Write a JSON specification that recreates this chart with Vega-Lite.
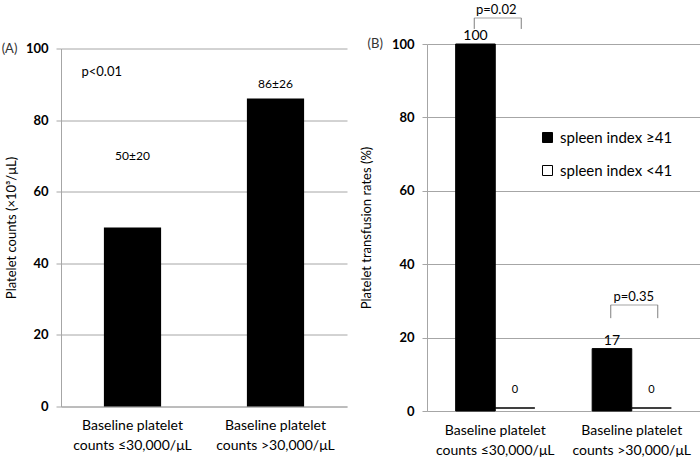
{
  "$schema": "https://vega.github.io/schema/vega-lite/v6.json",
  "padding": {"left": 1, "top": 4, "right": 0, "bottom": 2},
  "bounds": "flush",
  "center": true,
  "spacing": 80,
  "resolve": {"scale": {"fill": "independent"}, "legend": {"fill": "independent"}},
  "config": {
    "font": "Lato",
    "view": {"stroke": null},
    "axis": {
      "gridColor": "#a6a6a6",
      "domainColor": "#a6a6a6",
      "tickColor": "#a6a6a6",
      "labelColor": "#000000",
      "titleColor": "#000000",
      "labelFont": "Lato",
      "titleFont": "Lato"
    },
    "text": {"font": "Lato", "color": "#000000"}
  },
  "datasets": {
    "counts": [
      {"group": "Baseline platelet counts ≤30,000/μL", "count": 50, "label": "50±20"},
      {"group": "Baseline platelet counts >30,000/μL", "count": 86, "label": "86±26"}
    ],
    "notes": [
      {"group": "Baseline platelet counts ≤30,000/μL", "panel": "(A)", "p": "p<0.01"}
    ],
    "rates": [
      {"group": "Baseline platelet counts ≤30,000/μL", "series": "spleen index ≥41", "rate": 100},
      {"group": "Baseline platelet counts ≤30,000/μL", "series": "spleen index <41", "rate": 0},
      {"group": "Baseline platelet counts >30,000/μL", "series": "spleen index ≥41", "rate": 17},
      {"group": "Baseline platelet counts >30,000/μL", "series": "spleen index <41", "rate": 0}
    ],
    "pvals": [
      {"group": "Baseline platelet counts ≤30,000/μL", "panel": "(B)", "p": "p=0.02"},
      {"group": "Baseline platelet counts >30,000/μL", "panel": "", "p": "p=0.35"}
    ]
  },
  "hconcat": [
    {
      "width": 286,
      "height": 358,
      "encoding": {
        "x": {
          "field": "group",
          "type": "nominal",
          "sort": null,
          "scale": {"paddingInner": 0.6, "paddingOuter": 0.3},
          "axis": {
            "title": null,
            "labelAngle": 0,
            "ticks": false,
            "labelFontSize": 14,
            "labelLineHeight": 20,
            "labelPadding": 12,
            "labelExpr": "[slice(datum.label, 0, 17), slice(datum.label, 18)]"
          }
        }
      },
      "layer": [
        {
          "data": {"name": "counts"},
          "mark": {"type": "bar", "color": "#000000"},
          "encoding": {
            "y": {
              "field": "count",
              "type": "quantitative",
              "scale": {"domain": [0, 100], "nice": false},
              "axis": {
                "title": "Platelet counts (×10³/μL)",
                "values": [0, 20, 40, 60, 80, 100],
                "labelFontSize": 13,
                "labelFontWeight": "bold",
                "labelPadding": 8,
                "tickSize": 5,
                "titleFontSize": 13,
                "titleFontWeight": "normal",
                "titlePadding": 7
              }
            }
          }
        },
        {
          "data": {"name": "counts"},
          "transform": [{"filter": "datum.count == 50"}],
          "mark": {"type": "text", "fontSize": 12, "baseline": "middle"},
          "encoding": {"y": {"datum": 70}, "text": {"field": "label"}}
        },
        {
          "data": {"name": "counts"},
          "transform": [{"filter": "datum.count == 86"}],
          "mark": {"type": "text", "fontSize": 12, "baseline": "middle"},
          "encoding": {"y": {"datum": 90}, "text": {"field": "label"}}
        },
        {
          "data": {"name": "notes"},
          "mark": {"type": "text", "fontSize": 13, "baseline": "middle", "align": "center", "dx": -123, "color": "#333333"},
          "encoding": {"y": {"datum": 100}, "text": {"field": "panel"}}
        },
        {
          "data": {"name": "notes"},
          "mark": {"type": "text", "fontSize": 13, "baseline": "middle", "align": "left", "dx": -51},
          "encoding": {"y": {"datum": 93.5}, "text": {"field": "p"}}
        }
      ]
    },
    {
      "width": 273,
      "height": 367,
      "encoding": {
        "x": {
          "field": "group",
          "type": "nominal",
          "sort": null,
          "scale": {"paddingInner": 0.42, "paddingOuter": 0.21},
          "axis": {
            "title": null,
            "labelAngle": 0,
            "ticks": false,
            "labelFontSize": 14,
            "labelLineHeight": 20,
            "labelPadding": 12,
            "labelExpr": "[slice(datum.label, 0, 17), slice(datum.label, 18)]"
          }
        }
      },
      "layer": [
        {
          "data": {"name": "rates"},
          "transform": [{"filter": "datum.series == 'spleen index ≥41'"}],
          "mark": {"type": "bar", "stroke": "#000000", "strokeWidth": 1},
          "encoding": {
            "xOffset": {"field": "series", "type": "nominal", "scale": {"domain": ["spleen index ≥41", "spleen index <41"], "paddingInner": 0, "paddingOuter": 0}},
            "y": {
              "field": "rate",
              "type": "quantitative",
              "scale": {"domain": [0, 100], "nice": false},
              "axis": {
                "title": "Platelet transfusion rates (%)",
                "values": [0, 20, 40, 60, 80, 100],
                "labelFontSize": 13,
                "labelFontWeight": "bold",
                "labelPadding": 8,
                "tickSize": 5,
                "titleFontSize": 13,
                "titleFontWeight": "normal",
                "titlePadding": 18
              }
            },
            "fill": {
              "field": "series",
              "type": "nominal",
              "scale": {"domain": ["spleen index ≥41", "spleen index <41"], "range": ["#000000", "#ffffff"]},
              "legend": {
                "title": null,
                "orient": "none",
                "legendX": 113,
                "legendY": 86,
                "padding": 0,
                "symbolType": "square",
                "symbolSize": 100,
                "symbolStrokeColor": "#000000",
                "symbolStrokeWidth": 1,
                "labelFontSize": 15,
                "labelFont": "Lato",
                "labelColor": "#000000",
                "labelOffset": 5,
                "rowPadding": 17
              }
            }
          }
        },
        {
          "data": {"name": "rates"},
          "transform": [{"filter": "datum.series == 'spleen index <41'"}],
          "mark": {"type": "bar", "stroke": "#000000", "strokeWidth": 1, "yOffset": -3},
          "encoding": {
            "xOffset": {"field": "series", "type": "nominal"},
            "y": {"field": "rate", "type": "quantitative"},
            "fill": {"field": "series", "type": "nominal"}
          }
        },
        {
          "data": {"name": "rates"},
          "transform": [{"filter": "datum.series == 'spleen index ≥41'"}],
          "mark": {"type": "text", "fontSize": 14, "baseline": "bottom", "dy": -1},
          "encoding": {
            "xOffset": {"field": "series", "type": "nominal"},
            "y": {"field": "rate", "type": "quantitative"},
            "text": {"field": "rate", "type": "quantitative"}
          }
        },
        {
          "data": {"name": "rates"},
          "transform": [{"filter": "datum.series == 'spleen index <41'"}],
          "mark": {"type": "text", "fontSize": 11, "baseline": "bottom", "dy": -16},
          "encoding": {
            "xOffset": {"field": "series", "type": "nominal"},
            "y": {"field": "rate", "type": "quantitative"},
            "text": {"field": "rate", "type": "quantitative"}
          }
        },
        {
          "data": {"name": "pvals"},
          "transform": [{"filter": "datum.p == 'p=0.02'"}],
          "mark": {"type": "rule", "xOffset": -21, "color": "#7f7f7f", "strokeWidth": 1},
          "encoding": {"y": {"datum": 104.1}, "y2": {"datum": 107.1}}
        },
        {
          "data": {"name": "pvals"},
          "transform": [{"filter": "datum.p == 'p=0.02'"}],
          "mark": {"type": "rule", "xOffset": 26, "color": "#7f7f7f", "strokeWidth": 1},
          "encoding": {"y": {"datum": 104.1}, "y2": {"datum": 107.1}}
        },
        {
          "data": {"name": "pvals"},
          "transform": [{"filter": "datum.p == 'p=0.02'"}],
          "mark": {"type": "tick", "orient": "horizontal", "size": 47, "thickness": 1, "xOffset": 2.5, "color": "#7f7f7f"},
          "encoding": {"y": {"datum": 107.1}}
        },
        {
          "data": {"name": "pvals"},
          "transform": [{"filter": "datum.p == 'p=0.02'"}],
          "mark": {"type": "text", "fontSize": 13, "baseline": "middle", "dx": 1},
          "encoding": {"y": {"datum": 109.2}, "text": {"field": "p"}}
        },
        {
          "data": {"name": "pvals"},
          "transform": [{"filter": "datum.p == 'p=0.35'"}],
          "mark": {"type": "rule", "xOffset": -21, "color": "#7f7f7f", "strokeWidth": 1},
          "encoding": {"y": {"datum": 25.3}, "y2": {"datum": 28.9}}
        },
        {
          "data": {"name": "pvals"},
          "transform": [{"filter": "datum.p == 'p=0.35'"}],
          "mark": {"type": "rule", "xOffset": 26, "color": "#7f7f7f", "strokeWidth": 1},
          "encoding": {"y": {"datum": 25.3}, "y2": {"datum": 28.9}}
        },
        {
          "data": {"name": "pvals"},
          "transform": [{"filter": "datum.p == 'p=0.35'"}],
          "mark": {"type": "tick", "orient": "horizontal", "size": 47, "thickness": 1, "xOffset": 2.5, "color": "#7f7f7f"},
          "encoding": {"y": {"datum": 28.9}}
        },
        {
          "data": {"name": "pvals"},
          "transform": [{"filter": "datum.p == 'p=0.35'"}],
          "mark": {"type": "text", "fontSize": 13, "baseline": "middle", "dx": 2},
          "encoding": {"y": {"datum": 31}, "text": {"field": "p"}}
        },
        {
          "data": {"name": "pvals"},
          "transform": [{"filter": "datum.panel == '(B)'"}],
          "mark": {"type": "text", "fontSize": 13, "baseline": "middle", "align": "center", "dx": -120, "color": "#333333"},
          "encoding": {"y": {"datum": 100}, "text": {"field": "panel"}}
        }
      ]
    }
  ]
}
